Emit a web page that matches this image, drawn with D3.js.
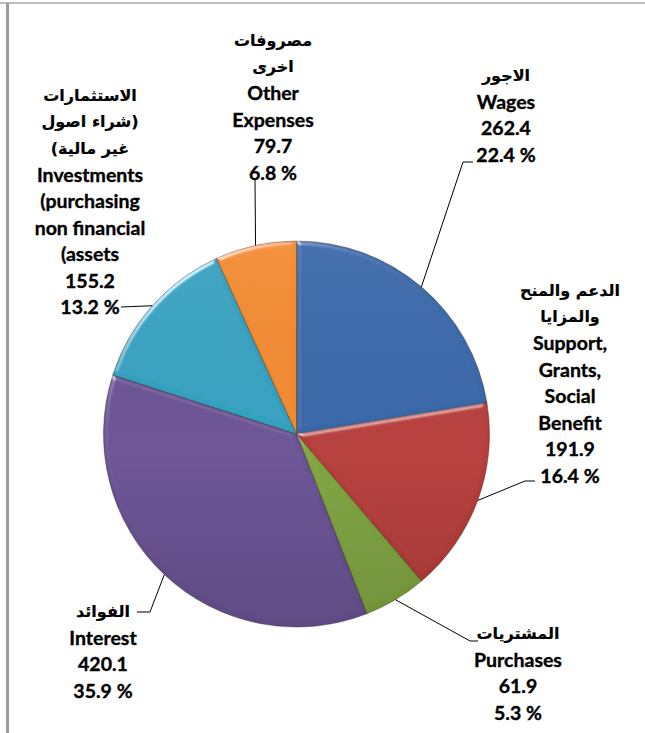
<!DOCTYPE html>
<html><head><meta charset="utf-8">
<script src="https://cdn.jsdelivr.net/npm/d3@7"></script>
<style>
html,body{margin:0;padding:0;background:#fff;}
svg{display:block;}
.lbl text{font-family:Lato,"DejaVu Sans",sans-serif;font-weight:700;fill:#000;stroke:#000;stroke-width:0.35px;}
.lbl text.ar{font-family:"DejaVu Sans",sans-serif;stroke-width:0.2px;}
</style></head><body>
<script>
// Government expenditure by economic classification
const categories = ["Wages", "Support, Grants, Social Benefit", "Purchases", "Interest",
  "Investments (purchasing non financial assets)", "Other Expenses"];
const values = [262.4, 191.9, 61.9, 420.1, 155.2, 79.7];
const shares = [22.4, 16.4, 5.3, 35.9, 13.2, 6.8];
const colors = ["#3867a9", "#b63d3a", "#80a43e", "#6b5295", "#32a1c0", "#f28a2c"];
const labelLines = [
  ["الاجور", "Wages"],
  ["الدعم والمنح", "والمزايا", "Support,", "Grants,", "Social", "Benefit"],
  ["المشتريات", "Purchases"],
  ["الفوائد", "Interest"],
  ["الاستثمارات", "شراء اصول)", "(غير مالية", "Investments", "(purchasing", "non financial", "(assets"],
  ["مصروفات", "اخرى", "Other", "Expenses"]
];

// label blocks: centre x, first line centre y, leader bend points
const labelLayout = [
  {x: 506, y: 75,  bend: [[463, 162], [473, 162]]},
  {x: 570, y: 290, bend: [[525, 481], [535, 481]]},
  {x: 518, y: 633, bend: [[470, 641], [478, 641]]},
  {x: 103, y: 611, bend: [[150, 612], [137, 612]]},
  {x: 90,  y: 95,  bend: [[121, 307]]},
  {x: 273, y: 40,  bend: [[255, 180]]}
];
const lineH = 26.5;

const W = 645, H = 733;
const cx = 296.5, cy = 434, R = 193;

const svg = d3.select("body").append("svg").attr("width", W).attr("height", H);
const defs = svg.append("defs");

// soft bevel on each slice: highlights only where the edge faces the light
const f = defs.append("filter").attr("id", "bevel")
  .attr("x", "-10%").attr("y", "-10%").attr("width", "120%").attr("height", "120%");
f.append("feGaussianBlur").attr("in", "SourceAlpha").attr("stdDeviation", 2.2).attr("result", "blur");
const sp = f.append("feSpecularLighting").attr("in", "blur").attr("surfaceScale", 3)
  .attr("specularConstant", 0.7).attr("specularExponent", 22)
  .attr("lighting-color", "#ffffff").attr("result", "spec");
sp.append("feDistantLight").attr("azimuth", 235).attr("elevation", 22);
f.append("feComposite").attr("in", "spec").attr("in2", "SourceAlpha").attr("operator", "in").attr("result", "specIn");
f.append("feComposite").attr("in", "SourceGraphic").attr("in2", "specIn")
  .attr("operator", "arithmetic").attr("k1", 0).attr("k2", 1).attr("k3", 0.8).attr("k4", 0);

const shade = defs.append("linearGradient").attr("id", "shade")
  .attr("x1", 0).attr("y1", 0).attr("x2", 0).attr("y2", 1);
shade.append("stop").attr("offset", "0%").attr("stop-color", "#fff").attr("stop-opacity", 0.05);
shade.append("stop").attr("offset", "55%").attr("stop-color", "#000").attr("stop-opacity", 0);
shade.append("stop").attr("offset", "100%").attr("stop-color", "#000").attr("stop-opacity", 0.12);

// frame edges
svg.append("rect").attr("x", 0).attr("y", 2).attr("width", W).attr("height", 2).attr("fill", "#bdbdbd");
svg.append("rect").attr("x", 6).attr("y", 3).attr("width", 3).attr("height", H).attr("fill", "#9a9a9a");

const data = categories.map((c, i) => ({name: c, value: values[i], share: shares[i], color: colors[i], lines: labelLines[i], layout: labelLayout[i]}));

const pie = d3.pie().sort(null).value(d => d.value);
const arcs = pie(data);
const arc = d3.arc().innerRadius(0).outerRadius(R);

const g = svg.append("g").attr("transform", `translate(${cx},${cy})`);
g.selectAll("path.slice").data(arcs).join("path")
  .attr("class", "slice")
  .attr("d", arc)
  .attr("fill", d => d.data.color)
  .attr("stroke", "rgba(40,30,20,0.55)")
  .attr("stroke-width", 0.7)
  .attr("filter", "url(#bevel)");
g.append("circle").attr("r", R).attr("fill", "url(#shade)").attr("pointer-events", "none");

// leader lines from each slice's outer edge
const edgePoint = d => {
  const a = (d.startAngle + d.endAngle) / 2;
  return [cx + R * Math.sin(a), cy - R * Math.cos(a)];
};
svg.append("g").selectAll("path").data(arcs).join("path")
  .attr("d", d => d3.line()([edgePoint(d), ...d.data.layout.bend]))
  .attr("fill", "none").attr("stroke", "#000").attr("stroke-width", 1);

// labels
const fmtV = d3.format(".1f");
const lbl = svg.append("g").attr("class", "lbl");
arcs.forEach(d => {
  const L = d.data.layout;
  const lines = [...d.data.lines, fmtV(d.data.value), fmtV(d.data.share) + " %"];
  lines.forEach((s, i) => {
    const ar = /[\u0600-\u06FF]/.test(s);
    lbl.append("text")
      .attr("class", ar ? "ar" : null)
      .attr("text-anchor", "middle")
      .attr("x", L.x).attr("y", L.y + i * lineH)
      .attr("dy", "0.36em")
      .attr("font-size", ar ? 16 : 19.5)
      .text(s);
  });
});
</script>
</body></html>
